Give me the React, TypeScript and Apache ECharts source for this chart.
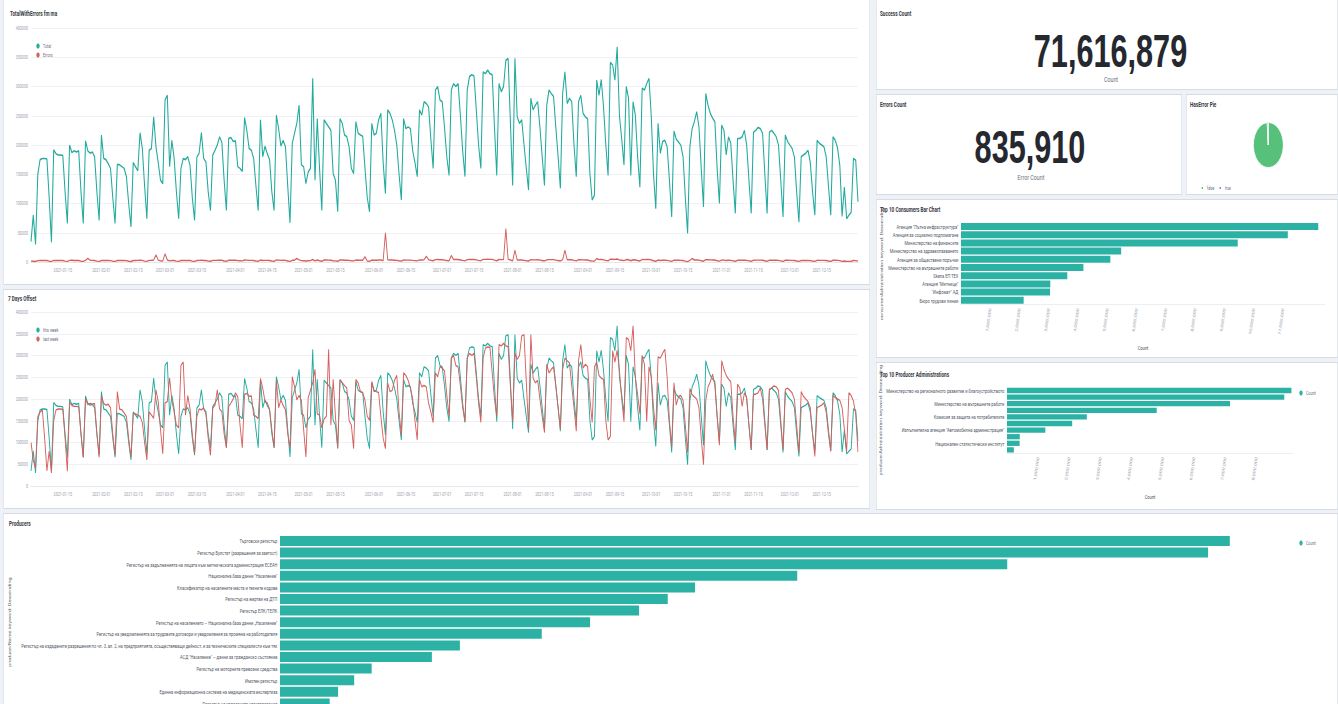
import React, { useEffect, useRef } from "react";
import * as echarts from "echarts";

// ---------- layout (reference coordinates are stretched by SX; the stage is squeezed back with CSS) ----------
const REF_W = 1338;
const H = 704;
const CHART_H = 724;
const SX = 1.5;
const W = REF_W * SX;
const X = (v: number) => v * SX;
const FONT = 'Roboto, "Noto Sans", sans-serif';

// ---------- data ----------
const firstDay = "2021-01-01";

// daily total requests, thousands (Jan 1 .. Dec 31 2021), rows are Mon..Sun weeks
const totalDailyK = [
  35, 80, 30,
  150, 175, 177, 177, 176, 110, 34,
  192, 185, 183, 183, 182, 120, 66,
  200, 187, 190, 188, 190, 120, 66,
  207, 190, 186, 188, 180, 120, 71,
  217, 177, 175, 168, 160, 110, 66,
  167, 166, 163, 160, 146, 100, 60,
  170, 163, 156, 221, 194, 130, 74,
  191, 194, 248, 197, 170, 140, 134,
  277, 285, 163, 208, 177, 120, 74,
  160, 177, 175, 180, 165, 110, 71,
  179, 186, 221, 177, 171, 120, 88,
  183, 191, 200, 214, 205, 140, 88,
  211, 213, 206, 207, 163, 160, 155,
  247, 225, 194, 191, 177, 130, 88,
  243, 180, 198, 185, 175, 120, 88,
  251, 228, 198, 208, 197, 130, 67,
  203, 220, 237, 268, 166, 163, 134,
  154, 160, 314, 140, 245, 160, 88,
  243, 237, 231, 225, 151, 140, 86,
  245, 237, 217, 214, 197, 160, 151,
  240, 220, 217, 215, 160, 110, 86,
  237, 217, 220, 243, 254, 170, 117,
  260, 254, 243, 225, 200, 150, 106,
  245, 228, 231, 228, 190, 170, 146,
  260, 251, 274, 271, 265, 210, 160,
  294, 300, 277, 274, 230, 180, 148,
  294, 305, 300, 305, 250, 190, 146,
  294, 317, 320, 318, 260, 200, 160,
  325, 322, 328, 322, 320, 230, 148,
  305, 291, 300, 345, 348, 240, 131,
  348, 248, 237, 243, 200, 160, 123,
  280, 260, 268, 274, 230, 180, 131,
  268, 294, 288, 283, 230, 180, 126,
  288, 325, 271, 280, 274, 200, 146,
  274, 285, 254, 248, 245, 151, 106,
  114, 311, 285, 312, 265, 200, 148,
  341, 337, 311, 368, 250, 210, 166,
  300, 280, 148, 274, 251, 180, 128,
  297, 294, 305, 314, 250, 150, 91,
  237, 186, 206, 208, 197, 140, 77,
  224, 210, 205, 200, 180, 110, 49,
  197, 228, 240, 257, 231, 160, 94,
  288, 268, 254, 246, 240, 160, 100,
  234, 225, 183, 214, 203, 140, 83,
  211, 211, 214, 225, 200, 140, 83,
  222, 225, 230, 228, 220, 150, 83,
  222, 225, 220, 214, 200, 140, 77,
  217, 206, 200, 194, 180, 120, 68,
  180, 183, 186, 191, 170, 120, 80,
  208, 203, 200, 197, 180, 130, 80,
  214, 208, 195, 165, 78, 128, 74,
  80, 85, 177, 174, 103,
];

// daily error requests, thousands
const errorsDailyK = [
  1.5, 1.2, 0.8,
  2.4, 2.6, 2.5, 2.7, 2.5, 1.4, 1.0,
  2.8, 2.6, 2.7, 2.5, 2.6, 1.5, 1.1,
  2.7, 2.9, 2.6, 2.8, 2.5, 1.4, 1.0,
  2.9, 6.0, 3.0, 2.7, 2.6, 1.5, 1.1,
  2.6, 2.8, 2.5, 2.7, 2.4, 1.4, 1.0,
  2.5, 2.7, 2.6, 2.5, 2.3, 1.3, 0.9,
  2.6, 2.5, 2.7, 3.1, 2.8, 1.5, 1.1,
  2.8, 3.0, 3.5, 12.0, 3.2, 2.0, 1.8,
  14.0, 3.5, 2.0, 2.8, 2.6, 1.5, 1.1,
  2.5, 2.7, 2.6, 2.8, 2.5, 1.4, 1.0,
  2.6, 2.8, 3.2, 2.6, 2.5, 1.5, 1.2,
  2.7, 2.8, 2.9, 3.1, 3.0, 1.8, 1.2,
  3.0, 3.1, 2.9, 3.0, 2.4, 2.2, 2.0,
  3.4, 3.2, 2.8, 2.7, 2.5, 1.7, 1.2,
  3.3, 2.6, 2.8, 2.7, 2.5, 1.6, 1.2,
  3.5, 3.2, 2.8, 3.0, 2.8, 1.7, 1.0,
  2.9, 3.1, 6.0, 3.6, 2.4, 2.2, 1.8,
  2.2, 2.3, 4.3, 2.0, 3.4, 2.2, 1.2,
  3.4, 3.3, 3.2, 3.1, 2.2, 1.9, 1.2,
  3.4, 3.3, 3.0, 3.0, 2.8, 2.2, 2.0,
  3.3, 3.1, 3.0, 3.0, 9.0, 1.6, 1.2,
  3.3, 3.0, 3.1, 3.4, 3.5, 2.4, 50.0,
  3.6, 3.5, 3.4, 3.1, 2.8, 2.1, 1.5,
  3.4, 3.2, 3.2, 3.2, 2.7, 2.4, 2.0,
  3.6, 3.5, 3.8, 10.0, 3.7, 2.9, 2.2,
  4.1, 4.2, 3.9, 3.8, 3.2, 2.5, 2.1,
  11.0, 4.3, 4.2, 4.3, 3.5, 2.7, 2.0,
  4.1, 4.4, 4.5, 4.4, 3.6, 2.8, 2.2,
  4.5, 4.5, 4.6, 4.5, 4.5, 3.2, 2.1,
  4.3, 4.1, 4.2, 57.0, 4.9, 3.4, 1.8,
  20.0, 3.5, 3.3, 3.4, 2.8, 2.2, 1.7,
  3.9, 3.6, 3.7, 3.8, 3.2, 2.5, 1.8,
  3.7, 4.1, 4.0, 4.0, 3.2, 2.5, 1.8,
  4.0, 20.0, 3.8, 3.9, 3.8, 2.8, 2.0,
  3.8, 4.0, 3.6, 3.5, 3.4, 2.1, 1.5,
  1.6, 6.0, 4.0, 4.4, 3.7, 2.8, 2.1,
  4.8, 4.7, 4.4, 5.2, 3.5, 2.9, 2.3,
  4.2, 3.9, 2.1, 3.8, 3.5, 2.5, 1.8,
  4.2, 4.1, 4.3, 4.4, 3.5, 2.1, 1.3,
  3.3, 2.6, 2.9, 2.9, 2.8, 2.0, 1.1,
  3.1, 2.9, 2.9, 2.8, 2.5, 1.5, 0.7,
  2.8, 6.0, 3.4, 3.6, 3.2, 2.2, 1.3,
  4.0, 3.8, 3.6, 3.4, 3.4, 2.2, 1.4,
  3.3, 3.2, 2.6, 3.0, 2.8, 2.0, 1.2,
  3.0, 3.0, 3.0, 3.2, 2.8, 2.0, 1.2,
  3.1, 3.2, 3.2, 3.2, 3.1, 2.1, 1.2,
  3.1, 3.2, 3.1, 3.0, 2.8, 2.0, 1.1,
  3.0, 2.9, 2.8, 2.7, 2.5, 1.7, 1.0,
  2.5, 2.6, 2.6, 2.7, 2.4, 1.7, 1.1,
  2.9, 2.8, 2.8, 2.8, 2.5, 1.8, 1.1,
  3.0, 2.9, 2.7, 2.3, 1.1, 1.8, 1.0,
  1.1, 1.2, 2.5, 2.4, 1.4,
];

// the last 7 days of 2020 (thousands), needed for the "last week" line
const lastWeekLeadK = [100, 60, 40, 160, 170, 175, 110];

const countTicks = [0, 50000, 100000, 150000, 200000, 250000, 300000, 350000, 400000];

const consumerNames = [
  'Агенция "Пътна инфраструктура"',
  "Агенция за социално подпомагане",
  "Министерство на финансите",
  "Министерство на здравеопазването",
  "Агенция за обществени поръчки",
  "Министерство на вътрешните работи",
  "Skena ЕП ТЕХ",
  'Агенция "Митници"',
  '"Инфомат" АД',
  "Бюро трудови линии",
];
const consumerCounts = [12200000, 11160000, 9450000, 5470000, 5100000, 4180000, 3630000, 3050000, 3040000, 2140000];

const producerAdminNames = [
  "Министерство на регионалното развитие и благоустройството",
  "Агенция по вписванията",
  "Министерство на вътрешните работи",
  'Агенция "Митници"',
  "Комисия за защита на потребителите",
  "Национална агенция за приходите",
  'Изпълнителна агенция "Автомобилна администрация"',
  "Национална експертна лекарска комисия",
  "Национален статистически институт",
  "Министерство на туризма",
];
const producerAdminCounts = [9120000, 8890000, 7150000, 4800000, 2560000, 2090000, 1230000, 410000, 405000, 220000];

const producerNames = [
  "Търговски регистър",
  "Регистър Булстат (разрешения за заетост)",
  "Регистър на задълженията на лицата към митническата администрация ЕСЕАН",
  'Национална база данни "Население"',
  "Класификатор на населените места и техните кодове",
  "Регистър на жертви на ДТП",
  "Регистър ЕЛК/ТЕЛК",
  'Регистър на населението – Национална база данни „Население"',
  "Регистър на уведомленията за трудовите договори и уведомления за промяна на работодателя",
  "Регистър на издадените разрешения по чл. 3, ал. 2, на предприятията, осъществяващи дейност, и за техническите специалисти към тях",
  'АСД "Население" – данни за гражданско състояние',
  "Регистър на моторните превозни средства",
  "Имотен регистър",
  "Единна информационна система на медицинската експертиза",
  "Регистър на издадените удостоверения",
];
const producerCounts = [13570000, 13260000, 10390000, 7390000, 5930000, 5540000, 5130000, 4430000, 3740000, 2570000, 2170000, 1310000, 1060000, 830000, 710000];

const successCount = 71616879;
const errorCount = 835910;

// ---------- derived ----------
const DAY = 86400000;
const day0 = Date.parse(firstDay + "T00:00:00Z");
const dates = totalDailyK.map((_, i) => new Date(day0 + i * DAY).toISOString().slice(0, 10));
const totals = totalDailyK.map((v) => v * 1000);
const errors = errorsDailyK.map((v) => Math.round(v * 1000));
const lastWeek = lastWeekLeadK.concat(totalDailyK).slice(0, totalDailyK.length).map((v) => v * 1000);

const fmt = (v: number) => v.toLocaleString("en-US");
const isTickDate = (i: number, v: string) => i > 0 && (v.endsWith("-01") || v.endsWith("-15"));

// ---------- panels (reference coordinates) ----------
const panels = [
  { x: 3, y: -1, w: 867, h: 286 },
  { x: 3, y: 289, w: 867, h: 220 },
  { x: 876, y: -1, w: 462, h: 91 },
  { x: 876, y: 94, w: 306, h: 101 },
  { x: 1186, y: 94, w: 152, h: 101 },
  { x: 876, y: 199, w: 462, h: 159 },
  { x: 876, y: 362, w: 462, h: 148 },
  { x: 3, y: 513, w: 1335, h: 200 },
];

const TEAL = "#23ab9e";
const BAR = "#2cb2a4";
const RED = "#d6605e";
const GREY = "#9aa0aa";
const DARK = "#343741";

export default function App() {
  const ref = useRef<HTMLDivElement>(null);

  useEffect(() => {
    if (!ref.current) return;
    const chart = echarts.init(ref.current, undefined, { renderer: "svg", width: W, height: CHART_H });

    const title = (text: string, x: number, y: number) => ({
      type: "text",
      x: X(x),
      y,
      style: { text, fontSize: 7, fontWeight: "bold", fill: DARK, fontFamily: FONT, verticalAlign: "middle" },
      z: 10,
    });

    const lineYAxis = (gridIndex: number) => ({
      type: "value",
      gridIndex,
      min: countTicks[0],
      max: countTicks[countTicks.length - 1],
      interval: countTicks[1] - countTicks[0],
      axisLabel: { fontSize: 5.5, color: GREY, margin: X(3), formatter: (v: number) => String(v) },
      axisLine: { show: false },
      axisTick: { show: false },
      splitLine: { lineStyle: { color: "#eceef2", width: 1 } },
    });

    const dateXAxis = (gridIndex: number) => ({
      type: "category",
      gridIndex,
      data: dates,
      boundaryGap: false,
      axisTick: { show: false },
      axisLine: { lineStyle: { color: "#e2e5ea" } },
      axisLabel: { interval: isTickDate, fontSize: 5.5, color: GREY, margin: 5 },
      splitLine: { show: false },
    });

    const catYAxis = (gridIndex: number, data: string[], name: string, nameGap: number) => ({
      type: "category",
      gridIndex,
      data,
      inverse: true,
      axisTick: { show: false },
      axisLine: { show: false },
      axisLabel: { fontSize: 6, color: "#535966", margin: 4 },
      name,
      nameLocation: "middle",
      nameRotate: 90,
      nameGap,
      nameTextStyle: { fontSize: 5.5, color: "#4a4f5a", fontFamily: FONT },
    });

    const countXAxis = (gridIndex: number, max: number) => ({
      type: "value",
      gridIndex,
      min: 0,
      max,
      interval: 1000000,
      axisLine: { show: true, lineStyle: { color: "#e8eaee" } },
      axisTick: { show: false },
      splitLine: { show: false },
      axisLabel: {
        rotate: 78,
        fontSize: 5.5,
        color: GREY,
        margin: 4,
        showMaxLabel: false,
        formatter: (v: number) => (v <= 0 || v > max - 500000 ? "" : fmt(v)),
      },
      name: "Count",
      nameLocation: "middle",
      nameGap: 40,
      nameTextStyle: { fontSize: 6, color: "#4a4f5a", fontFamily: FONT },
    });

    const option = {
      animation: false,
      textStyle: { fontFamily: FONT },
      grid: [
        { left: X(31), top: 28, width: X(858 - 31), height: 234 },
        { left: X(31), top: 312, width: X(858 - 31), height: 174 },
        { left: X(961), top: 222.4, width: X(1325 - 961), height: 82 },
        { left: X(1007), top: 387.2, width: X(1293 - 1007), height: 66 },
        { left: X(280), top: 535.2, width: X(1290 - 280), height: 174 },
      ],
      xAxis: [
        dateXAxis(0),
        dateXAxis(1),
        countXAxis(2, 12430000),
        countXAxis(3, 9170000),
        { type: "value", gridIndex: 4, show: false, min: 0, max: 14430000 },
      ],
      yAxis: [
        lineYAxis(0),
        lineYAxis(1),
        catYAxis(2, consumerNames, "consumerAdministration.keyword: Descending", X(961 - 884)),
        catYAxis(3, producerAdminNames, "producerAdministration.keyword: Descending", X(1007 - 884)),
        catYAxis(4, producerNames, "producerName.keyword: Descending", X(280 - 12)),
      ],
      legend: [
        {
          data: ["Total", "Errors"],
          orient: "vertical",
          left: X(33),
          top: 38,
          icon: "circle",
          itemWidth: 5,
          itemHeight: 5,
          itemGap: 3,
          textStyle: { fontSize: 5.5, color: "#69707d" },
        },
        {
          data: ["this week", "last week"],
          orient: "vertical",
          left: X(33),
          top: 322,
          icon: "circle",
          itemWidth: 5,
          itemHeight: 5,
          itemGap: 3,
          textStyle: { fontSize: 5.5, color: "#69707d" },
        },
        {
          data: ["false", "true"],
          orient: "horizontal",
          left: X(1197),
          top: 180,
          icon: "rect",
          itemWidth: 4,
          itemHeight: 4,
          itemGap: 6,
          textStyle: { fontSize: 5, color: "#69707d" },
        },
        {
          data: ["Count"],
          orient: "vertical",
          left: X(1296),
          top: 385,
          icon: "circle",
          itemWidth: 5,
          itemHeight: 5,
          textStyle: { fontSize: 5.5, color: "#69707d" },
        },
        {
          data: ["Count"],
          orient: "vertical",
          left: X(1296),
          top: 535,
          icon: "circle",
          itemWidth: 5,
          itemHeight: 5,
          textStyle: { fontSize: 5.5, color: "#69707d" },
        },
      ],
      series: [
        { name: "Total", type: "line", xAxisIndex: 0, yAxisIndex: 0, data: totals, showSymbol: false, color: TEAL, lineStyle: { width: 1.6 } },
        { name: "Errors", type: "line", xAxisIndex: 0, yAxisIndex: 0, data: errors, showSymbol: false, color: RED, lineStyle: { width: 1.4 } },
        { name: "this week", type: "line", xAxisIndex: 1, yAxisIndex: 1, data: totals, showSymbol: false, color: TEAL, lineStyle: { width: 1.4 } },
        { name: "last week", type: "line", xAxisIndex: 1, yAxisIndex: 1, data: lastWeek, showSymbol: false, color: RED, lineStyle: { width: 1.4 } },
        { name: "Count", type: "bar", xAxisIndex: 2, yAxisIndex: 2, data: consumerCounts, color: BAR, barCategoryGap: "15%" },
        { name: "Count", type: "bar", xAxisIndex: 3, yAxisIndex: 3, data: producerAdminCounts, color: BAR, barCategoryGap: "20%" },
        { name: "Count", type: "bar", xAxisIndex: 4, yAxisIndex: 4, data: producerCounts, color: BAR, barCategoryGap: "14%" },
        {
          name: "HasError",
          type: "pie",
          center: [X(1268.3), 145],
          radius: 22.5,
          startAngle: 90,
          label: { show: false },
          labelLine: { show: false },
          itemStyle: { borderColor: "#ffffff", borderWidth: 1 },
          data: [
            { name: "false", value: successCount, itemStyle: { color: "#57c17b" } },
            { name: "true", value: errorCount, itemStyle: { color: "#6f87d8" } },
          ],
        },
      ],
      graphic: [
        title("TotalWithErrors fm ma", 10, 13),
        title("7 Days Offset", 8, 298),
        title("Success Count", 880, 13),
        title("Errors Count", 880, 104),
        title("HasError Pie", 1190, 104),
        title("Top 10 Consumers Bar Chart", 880, 209),
        title("Top 10 Producer Administrations", 880, 374),
        title("Producers", 9, 523),
        {
          type: "text",
          x: X(1110.5),
          y: 51,
          style: { text: fmt(successCount), fontSize: 46, lineHeight: 34, fontWeight: "bold", fill: "#25282f", fontFamily: '"Liberation Sans", Arial, sans-serif', align: "center", verticalAlign: "middle" },
          z: 10,
        },
        {
          type: "text",
          x: X(1111),
          y: 80,
          style: { text: "Count", fontSize: 8, fill: "#69707d", fontFamily: FONT, align: "center", verticalAlign: "middle" },
          z: 10,
        },
        {
          type: "text",
          x: X(1030),
          y: 147,
          style: { text: fmt(errorCount), fontSize: 46, lineHeight: 34, fontWeight: "bold", fill: "#25282f", fontFamily: '"Liberation Sans", Arial, sans-serif', align: "center", verticalAlign: "middle" },
          z: 10,
        },
        {
          type: "text",
          x: X(1031),
          y: 178,
          style: { text: "Error Count", fontSize: 8, fill: "#69707d", fontFamily: FONT, align: "center", verticalAlign: "middle" },
          z: 10,
        },
      ],
    };

    chart.setOption(option as any);
    return () => chart.dispose();
  }, []);

  return (
    <div style={{ position: "fixed", left: 0, top: 0, width: REF_W, height: H, overflow: "hidden", background: "#eef1f6" }}>
      <div style={{ position: "absolute", left: 0, top: 0, width: W, height: CHART_H, transform: `scaleX(${1 / SX})`, transformOrigin: "0 0" }}>
        {panels.map((p, i) => (
          <div
            key={i}
            style={{
              position: "absolute",
              left: X(p.x),
              top: p.y,
              width: X(p.w),
              height: p.h,
              background: "#ffffff",
              border: "1px solid #d6dce6",
              boxSizing: "border-box",
            }}
          />
        ))}
        <div ref={ref} style={{ position: "absolute", left: 0, top: 0, width: W, height: CHART_H }} />
      </div>
    </div>
  );
}
